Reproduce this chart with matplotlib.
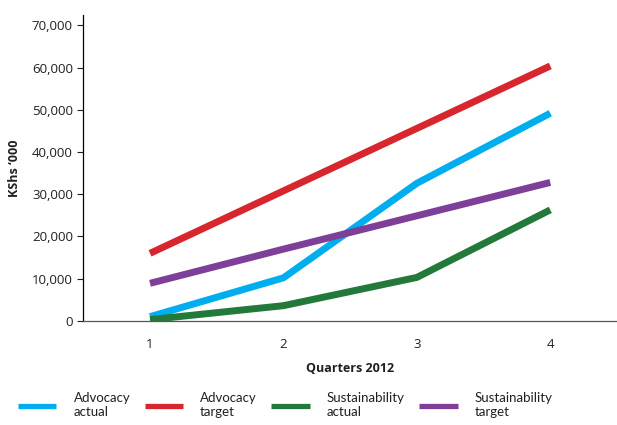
import matplotlib.pyplot as plt
from matplotlib.ticker import FuncFormatter

plt.rcParams['font.family'] = ['Open Sans', 'DejaVu Sans']

quarters = [1, 2, 3, 4]
advocacy_actual = [1000, 10200, 32600, 49200]
advocacy_target = [16000, 30800, 45600, 60400]
sustain_actual = [300, 3600, 10300, 26300]
sustain_target = [8900, 17000, 24900, 32800]

series = [
    ("Advocacy\nactual", advocacy_actual, "#00aeef"),
    ("Advocacy\ntarget", advocacy_target, "#d7262e"),
    ("Sustainability\nactual", sustain_actual, "#23793a"),
    ("Sustainability\ntarget", sustain_target, "#7d3f98"),
]

fig = plt.figure(figsize=(6.17, 4.25), dpi=100)
ax = fig.add_axes([0.135, 0.245, 0.865, 0.72])

for label, vals, col in series:
    ax.plot(quarters, vals, color=col, lw=5, label=label, solid_capstyle="butt")

ax.set_xlim(0.5, 4.5)
ax.set_ylim(0, 72500)
ax.set_xticks(quarters)
ax.set_yticks(range(0, 70001, 10000))
ax.yaxis.set_major_formatter(FuncFormatter(lambda v, p: f"{int(v):,}"))
ax.tick_params(axis="x", length=0, pad=12, labelsize=9.5, colors="#231f20")
ax.tick_params(axis="y", length=4, width=0.8, labelsize=9.5, colors="#231f20")
ax.spines["top"].set_visible(False)
ax.spines["right"].set_visible(False)
ax.spines["left"].set_linewidth(0.9)
ax.spines["bottom"].set_linewidth(0.9)
ax.spines["bottom"].set_color("#555555")

ax.set_xlabel("Quarters 2012", fontsize=9, fontweight="bold", labelpad=8, color="#231f20")
ax.set_ylabel("KShs \u2018000", fontsize=9, fontweight="bold", labelpad=8, color="#231f20")

leg = fig.legend(loc="lower left", bbox_to_anchor=(0.01, -0.012), ncol=4, frameon=False,
                 prop={"family": "Lato", "size": 9.5}, handlelength=2.9,
                 handletextpad=1.3, columnspacing=1.1, labelspacing=0.1)
for line in leg.get_lines():
    line.set_linewidth(3.8)
for t in leg.get_texts():
    t.set_color("#231f20")

fig.savefig("out.png", dpi=100, facecolor="white")
